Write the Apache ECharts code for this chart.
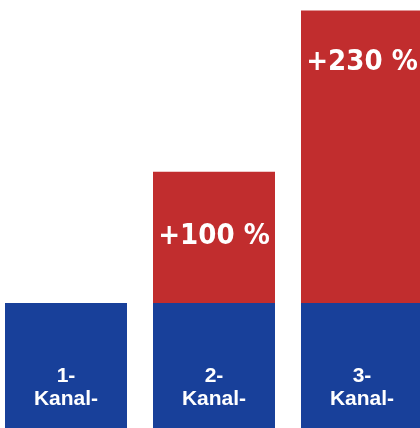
<!DOCTYPE html>
<html><head><meta charset="utf-8">
<script src="https://cdn.jsdelivr.net/npm/echarts@6/dist/echarts.min.js"></script>
<style>html,body{margin:0;padding:0;background:#fff;overflow:hidden;width:420px;height:428px;position:relative}#c{width:444px;height:428px;position:absolute;left:-8px;top:0}</style>
</head><body><div id="c"></div>
<script>
var categories = ['1-\nKanal-', '2-\nKanal-', '3-\nKanal-'];
var baseValues = [1, 1, 1];
var increaseValues = [0, 1.05, 2.34];
var increaseLabels = ['', '+100 %', '+230 %'];

var chart = echarts.init(document.getElementById('c'));
var labelDist = [0, 50, 37];
chart.setOption({
  animation: false,
  grid: {left: 0, right: 0, top: 0, bottom: 0},
  xAxis: {type: 'category', data: categories, show: false},
  yAxis: {type: 'value', min: 0, max: 3.424, show: false},
  series: [
    {
      type: 'bar', stack: 's', barWidth: 122,
      itemStyle: {color: '#18409a'},
      data: baseValues,
      label: {
        show: true, position: 'insideBottom', distance: 17,
        formatter: function (p) { return categories[p.dataIndex]; },
        color: '#fff', fontFamily: 'Liberation Sans, Arial, sans-serif',
        fontWeight: 'bold', fontSize: 21, lineHeight: 23, align: 'center'
      }
    },
    {
      type: 'bar', stack: 's', barWidth: 122,
      itemStyle: {color: '#c12d2e'},
      data: increaseValues.map(function (v, i) {
        return {
          value: v,
          label: {
            show: v > 0, position: 'insideTop', distance: labelDist[i],
            formatter: increaseLabels[i], color: '#fff',
            fontFamily: "'Liberation Sans Narrow', 'DejaVu Sans Condensed', sans-serif",
            fontWeight: 'bold', fontSize: 29
          }
        };
      })
    }
  ]
});
</script></body></html>
